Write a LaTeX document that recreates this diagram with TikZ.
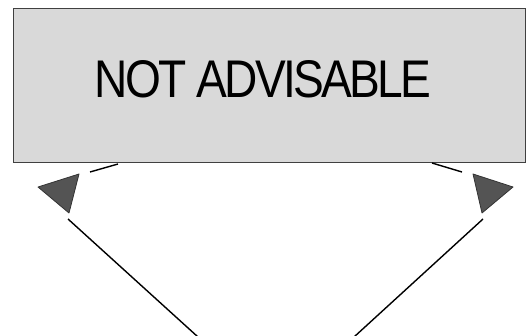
\documentclass[tikz,border=0pt]{standalone}
\usepackage{fontspec}
\setmainfont{Liberation Sans}
\newfontfamily\condfont[FakeStretch=0.87,LetterSpace=-5]{Liberation Sans}
\begin{document}
\begin{tikzpicture}[x=1pt,y=-1pt,
  boxstyle/.style={draw=black!75, line width=1pt, fill=black!15, minimum width=512pt, minimum height=154pt, inner sep=0pt},
  conn/.style={draw=black, line width=1.4pt},
  tri/.style={fill=black!67, draw=black!80, line width=0.8pt, line join=round}]
\useasboundingbox (0,0) rectangle (526,336);
\node[boxstyle] (box) at (269,86) {};
\node[font=\condfont\fontsize{53}{60}\selectfont, inner sep=0pt, anchor=base] (lbl) at (263,98) {NOT ADVISABLE};
% left connector
\coordinate (l1) at (118,164);
\coordinate (l2) at (90,172);
\coordinate (la) at (79,174);
\coordinate (lb) at (38,187);
\coordinate (lc) at (69,213);
\coordinate (l3) at (68,219);
\coordinate (l4) at (198,337);
\draw[conn] (l1) -- (l2);
\draw[tri] (la) -- (lb) -- (lc) -- cycle;
\draw[conn] (l3) -- (l4);
% right connector
\coordinate (r1) at (432,163);
\coordinate (r2) at (462,172);
\coordinate (ra) at (473,174);
\coordinate (rb) at (513,187);
\coordinate (rc) at (482,213);
\coordinate (r3) at (483,219);
\coordinate (r4) at (354,337);
\draw[conn] (r1) -- (r2);
\draw[tri] (ra) -- (rb) -- (rc) -- cycle;
\draw[conn] (r3) -- (r4);
\end{tikzpicture}
\end{document}
